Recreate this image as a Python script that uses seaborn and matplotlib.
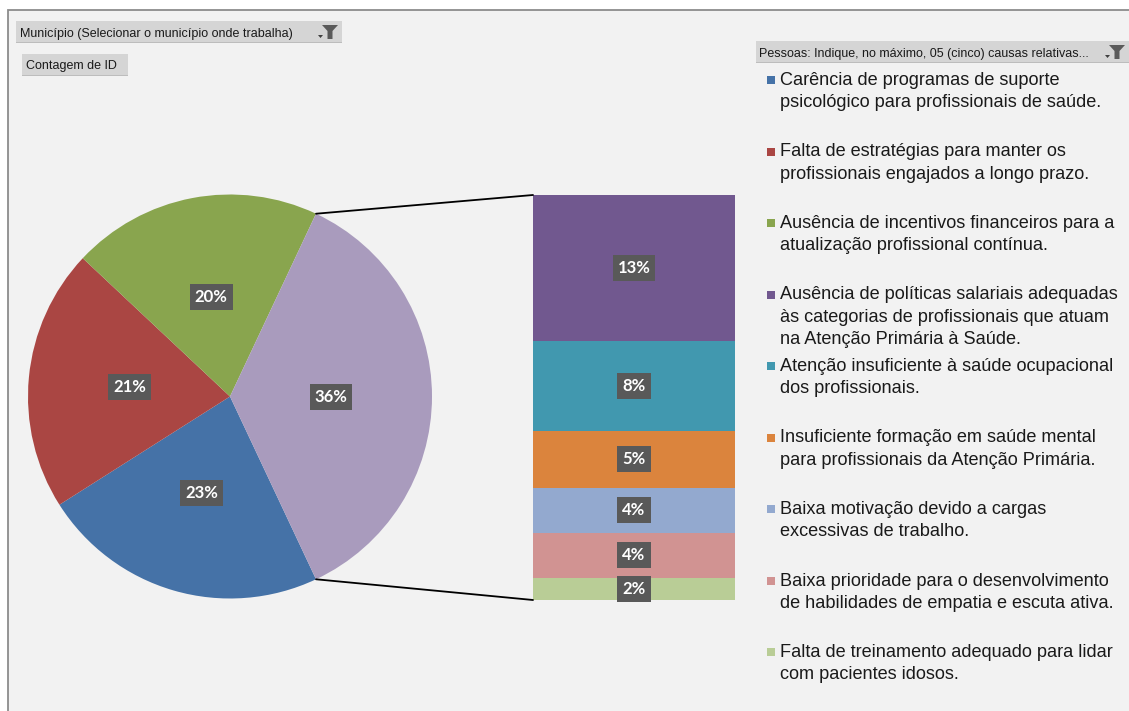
import numpy as np
import matplotlib
matplotlib.use("Agg")
import matplotlib.pyplot as plt
from matplotlib.patches import Rectangle, Polygon, ConnectionPatch
import seaborn as sns

# ---------------- data ----------------
main_labels = [
    "Carência de programas de suporte\npsicológico para profissionais de saúde.",
    "Falta de estratégias para manter os\nprofissionais engajados a longo prazo.",
    "Ausência de incentivos financeiros para a\natualização profissional contínua.",
]
main_values = [23, 21, 20]
other_labels = [
    "Ausência de políticas salariais adequadas\nàs categorias de profissionais que atuam\nna Atenção Primária à Saúde.",
    "Atenção insuficiente à saúde ocupacional\ndos profissionais.",
    "Insuficiente formação em saúde mental\npara profissionais da Atenção Primária.",
    "Baixa motivação devido a cargas\nexcessivas de trabalho.",
    "Baixa prioridade para o desenvolvimento\nde habilidades de empatia e escuta ativa.",
    "Falta de treinamento adequado para lidar\ncom pacientes idosos.",
]
other_values = [13, 8, 5, 4, 4, 2]
main_colors = ["#4572A7", "#AA4643", "#89A54E"]
other_slice_color = "#A99BBD"
other_colors = ["#71588F", "#4198AF", "#DB843D", "#93A9CF", "#D19392", "#B9CD96"]
filter_title = "Município (Selecionar o município onde trabalha)"
value_button = "Contagem de ID"
legend_title = "Pessoas: Indique, no máximo, 05 (cinco) causas relativas..."

# ---------------- style ----------------
sns.set_theme(style="white")
plt.rcParams['font.family'] = ['Liberation Sans', 'DejaVu Sans']

W, H = 1129, 711
fig = plt.figure(figsize=(W / 100, H / 100), dpi=100, facecolor='white')


def fx(x):
    return x / W


def fy(y):
    return 1 - y / H


# chart area background + border (behind the axes)
fig.add_artist(Rectangle((fx(8), -0.05), 1.1, fy(10) + 0.05, transform=fig.transFigure,
                         facecolor='#F2F2F2', edgecolor='#8C8C8C', linewidth=1.3, zorder=-10))


def funnel(xc, yt):
    # small dropdown arrow + funnel glyph (decoration of pivot buttons)
    fig.add_artist(Polygon([(fx(xc - 12), fy(yt + 10)), (fx(xc - 7), fy(yt + 10)), (fx(xc - 9.5), fy(yt + 13))],
                           closed=True, transform=fig.transFigure, facecolor='#404040', edgecolor='none'))
    fig.add_artist(Polygon([(fx(xc - 8), fy(yt)), (fx(xc + 8), fy(yt)), (fx(xc + 2.5), fy(yt + 6)),
                            (fx(xc + 2.5), fy(yt + 14)), (fx(xc - 2.5), fy(yt + 14)), (fx(xc - 2.5), fy(yt + 6))],
                           closed=True, transform=fig.transFigure, facecolor='#5A5A5A', edgecolor='none'))


def button(x0, y0, x1, y1, text, tx, tbase, with_funnel=False, fxc=None):
    fig.add_artist(Rectangle((fx(x0), fy(y1)), (x1 - x0) / W, (y1 - y0) / H, transform=fig.transFigure,
                             facecolor='#D5D5D5', edgecolor='none'))
    fig.add_artist(Rectangle((fx(x0), fy(y1)), (x1 - x0) / W, 1.5 / H, transform=fig.transFigure,
                             facecolor='#BDBDBD', edgecolor='none'))
    fig.text(fx(tx), fy(tbase), text, fontsize=9.0, va='baseline', ha='left', color='#1A1A1A')
    if with_funnel:
        funnel(fxc, y0 + 4)


button(16, 21, 342, 43, filter_title, 19.5, 36.5, True, 330)
button(22, 54, 128, 76, value_button, 26.5, 68.5)
button(756, 41, 1135, 63, legend_title, 759, 57, True, 1117)

label_font = dict(color='white', fontweight='bold', fontsize=12, family='Lato')
label_box = dict(boxstyle='square,pad=0.3', facecolor='#595959', edgecolor='none')

# ---------------- pie ----------------
ax_pie = fig.add_axes([fx(28), fy(598.5), 404 / W, 404 / H])
pie_values = main_values + [sum(other_values)]
total = sum(pie_values)
other_angle = sum(other_values) / total * 360
wedges, texts, autotexts = ax_pie.pie(
    pie_values, colors=main_colors + [other_slice_color],
    startangle=-other_angle / 2, counterclock=False,
    autopct='%.0f%%', pctdistance=0.5,
    wedgeprops=dict(linewidth=0),
    textprops=label_font)
for t in autotexts:
    t.set_bbox(dict(label_box))
ax_pie.set_xlim(-1, 1)
ax_pie.set_ylim(-1, 1)
ax_pie.axis('off')

# ---------------- bar of pie ----------------
ax_bar = fig.add_axes([fx(533), fy(600), 202 / W, 405 / H])
other_total = sum(other_values)
bottoms = other_total - np.cumsum(other_values)
for v, b, c in zip(other_values, bottoms, other_colors):
    bars = ax_bar.bar(0, v, bottom=b, width=1, color=c, linewidth=0)
    anns = ax_bar.bar_label(bars, labels=[f"{v / total * 100:.0f}%"], label_type='center', **label_font)
    for a in anns:
        a.set_bbox(dict(label_box))
        a.set_clip_on(False)
ax_bar.set_xlim(-0.5, 0.5)
ax_bar.set_ylim(0, other_total)
ax_bar.axis('off')

# connector lines
theta = np.deg2rad(other_angle / 2)
for sgn, ybar in [(1, other_total), (-1, 0)]:
    con = ConnectionPatch(xyA=(np.cos(theta), sgn * np.sin(theta)), coordsA=ax_pie.transData,
                          xyB=(-0.5, ybar), coordsB=ax_bar.transData, color='black', lw=1.3)
    fig.add_artist(con)

# ---------------- legend ----------------
legend_labels = main_labels + other_labels
legend_colors = main_colors + other_colors
for i, (lab, col) in enumerate(zip(legend_labels, legend_colors)):
    base = 85 + i * 71.5
    fig.add_artist(Rectangle((fx(767), fy(base - 1)), 8 / W, 8 / H, transform=fig.transFigure,
                             facecolor=col, edgecolor='none'))
    for j, line in enumerate(lab.split('\n')):
        fig.text(fx(780.5), fy(base + j * 22.3), line, fontsize=13.1, va='baseline', ha='left',
                 color='#1A1A1A')

fig.savefig('out.png', dpi=100, facecolor='white')
